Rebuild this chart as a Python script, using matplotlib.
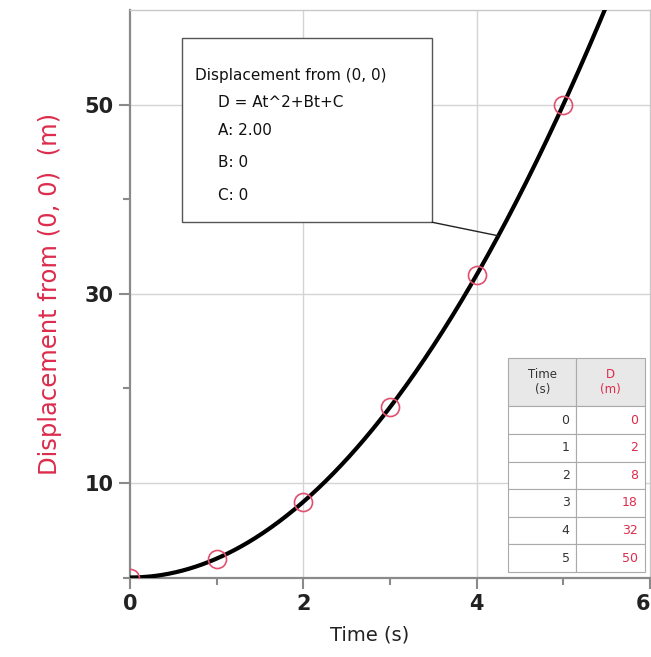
import numpy as np
import matplotlib
matplotlib.use("Agg")
import matplotlib.pyplot as plt
from matplotlib.ticker import FixedLocator

# ---- data ----
time_s = [0, 1, 2, 3, 4, 5]
disp_m = [0, 2, 8, 18, 32, 50]
fit_A, fit_B, fit_C = 2.00, 0, 0
x_major = [0, 2, 4, 6]
x_minor = [1, 3, 5]
y_major = [10, 30, 50]
y_minor = [0, 20, 40]
box_lines = ["Displacement from (0, 0)", "D = At^2+Bt+C", "A: 2.00", "B: 0", "C: 0"]

RED = "#dc2c4c"
PINK = "#e0506e"
GRAY = "#8a8a8a"

fig = plt.figure(figsize=(6.51, 6.57), dpi=100)
ax = fig.add_axes([130/651, 1 - 577.5/657, 520/651, 567.5/657])

# grid
for xv in [2, 4]:
    ax.axvline(xv, color="#d4d4d4", lw=1.0, zorder=0)
for yv in y_major:
    ax.axhline(yv, color="#d4d4d4", lw=1.0, zorder=0)

# fit curve
t = np.linspace(0, 6, 400)
ax.plot(t, fit_A * t**2 + fit_B * t + fit_C, color="black", lw=3.0, zorder=3, clip_on=True)

# data points
ax.plot(time_s, disp_m, linestyle="none", marker="o", markersize=13,
        markerfacecolor="none", markeredgecolor=PINK, markeredgewidth=1.2, zorder=4)

ax.set_xlim(0, 6)
ax.set_ylim(0, 60)
ax.xaxis.set_major_locator(FixedLocator(x_major))
ax.xaxis.set_minor_locator(FixedLocator(x_minor))
ax.yaxis.set_major_locator(FixedLocator(y_major))
ax.yaxis.set_minor_locator(FixedLocator(y_minor))
ax.tick_params(axis="both", which="major", direction="out", length=8, width=1.5,
               color=GRAY, labelsize=15, labelcolor="#222222", pad=4)
ax.tick_params(axis="both", which="minor", direction="out", length=5, width=1.5, color=GRAY)
for lab in ax.get_xticklabels() + ax.get_yticklabels():
    lab.set_fontweight("bold")
xlabs = ax.get_xticklabels()
xlabs[-1].set_horizontalalignment("right")

for s in ["left", "bottom"]:
    ax.spines[s].set_color(GRAY)
    ax.spines[s].set_linewidth(1.6)
for s in ["top", "right"]:
    ax.spines[s].set_color("#c8c8c8")
    ax.spines[s].set_linewidth(1.0)

ax.set_xlabel("Time (s)", fontsize=14, color="#222222")
ax.xaxis.set_label_coords(0.46, -0.085)
ax.set_ylabel("Displacement from (0, 0)  (m)", fontsize=17.5, color=RED)
ax.yaxis.set_label_coords(-0.13, 0.5)

# annotation box
bx0, bx1, by0, by1 = 0.10, 0.581, 0.626, 0.951
box = plt.Rectangle((bx0, by0), bx1 - bx0, by1 - by0, transform=ax.transAxes,
                    facecolor="white", edgecolor="#555555", lw=1.0, zorder=5)
ax.add_patch(box)
ys = [0.885, 0.837, 0.788, 0.731, 0.673]
xs = [0.125, 0.169, 0.169, 0.169, 0.169]
for txt, xx, yy in zip(box_lines, xs, ys):
    ax.text(xx, yy, txt, transform=ax.transAxes, fontsize=11, color="#111111",
            va="center", ha="left", zorder=6)
tc = 4.25
ax.annotate("", xy=(tc, fit_A * tc**2), xycoords="data",
            xytext=(bx1, by0), textcoords="axes fraction",
            arrowprops=dict(arrowstyle="-", color="#222222", lw=1.0,
                            shrinkA=0, shrinkB=0), zorder=6)

# data table
cell_text = [["Time\n(s)", "D\n(m)"]] + [[str(a), str(b)] for a, b in zip(time_s, disp_m)]
tab = ax.table(cellText=cell_text, bbox=[0.727, 0.0097, 0.263, 0.377], zorder=7)
tab.auto_set_font_size(False)
for (r, c), cell in tab.get_celld().items():
    cell.set_edgecolor("#aaaaaa")
    cell.set_linewidth(0.8)
    txt = cell.get_text()
    txt.set_fontsize(9)
    if r == 0:
        cell.set_height(cell.get_height() * 1.75)
        cell.set_facecolor("#e8e8e8")
        txt.set_ha("center")
        cell._loc = "center"
        txt.set_fontsize(8.5)
        txt.set_color("#333333" if c == 0 else RED)
    else:
        cell.set_facecolor("white")
        cell._loc = "right"
        txt.set_ha("right")
        txt.set_color("#333333" if c == 0 else RED)

fig.savefig("out.png", dpi=100)
